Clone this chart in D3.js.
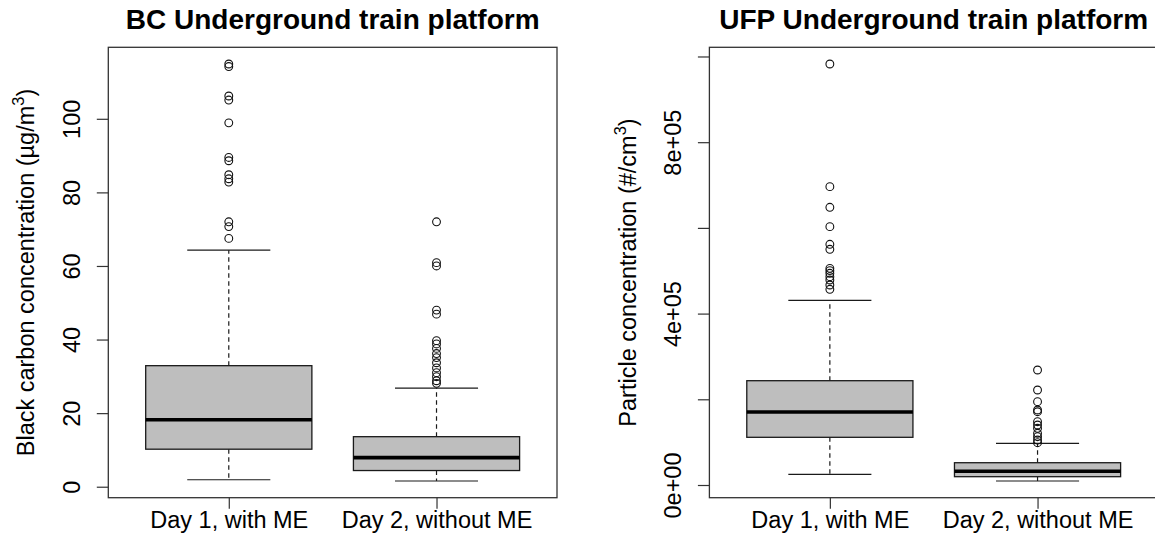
<!DOCTYPE html>
<html>
<head>
<meta charset="utf-8">
<script src="https://cdn.jsdelivr.net/npm/d3@7"></script>
<style>
  body { margin: 0; background: #fff; }
  svg { display: block; font-family: "Liberation Sans", Arial, Helvetica, sans-serif; }
</style>
</head>
<body>
<svg id="chart" width="1155" height="543"></svg>
<script>
// Groups on the x axis
const groups = ["Day 1, with ME", "Day 2, without ME"];

// Black carbon (µg/m³): [lower whisker, Q1, median, Q3, upper whisker] per group
const bcStats = [
  [1.9, 10.2, 18.2, 32.9, 64.3],
  [1.55, 4.4, 7.9, 13.6, 26.8]
];
const bcOutliers = [
  [114.9, 114.2, 106.2, 105.1, 98.9, 89.5, 88.6, 84.8, 83.7, 82.8, 72.0, 70.7, 67.5],
  [72.0, 60.9, 60.0, 48.0, 46.9, 39.7, 38.8, 37.6, 36.2, 35.1, 33.7, 32.3, 31.0, 29.9, 28.8, 28.1]
];
const bcTicks = [0, 20, 40, 60, 80, 100];
const bcTickLabels = ["0", "20", "40", "60", "80", "100"];

// Ultrafine particles (#/cm³): [lower whisker, Q1, median, Q3, upper whisker] per group
const ufpStats = [
  [25000, 111300, 170400, 243400, 431000],
  [9300, 19400, 32000, 52000, 97300]
];
const ufpOutliers = [
  [982500, 696200, 648000, 602900, 561700, 550000, 505600, 500200, 494000, 486100, 478400, 466700, 456700],
  [268400, 221700, 194400, 175000, 171000, 147700, 140000, 132300, 120600, 112700, 105000, 98700]
];
const ufpTicks = [0, 200000, 400000, 600000, 800000, 1000000];
const ufpTickLabels = ["0e+00", "", "4e+05", "", "8e+05", ""];

const svg = d3.select("#chart");
const FONT = 23.5;

function drawPanel(cfg) {
  const { left, right, top, bottom, stats, outliers, ticks, tickLabels, title, ylabel, ylabX } = cfg;
  const g = svg.append("g");

  // Data range padded by 4% on each side
  const all = stats.flat().concat(outliers.flat());
  const lo = d3.min(all), hi = d3.max(all);
  const pad = (hi - lo) * 0.04;
  const y = d3.scaleLinear().domain([lo - pad, hi + pad]).range([bottom, top]);
  const x = d3.scaleLinear().domain([0.42, 2.58]).range([left, right]);

  const boxHalf = 0.4, capHalf = 0.2;
  const ink = "#1a1a1a";

  stats.forEach((s, i) => {
    const c = i + 1;
    const [wLo, q1, med, q3, wHi] = s;
    const bg = g.append("g");
    // whiskers
    bg.append("line").attr("x1", x(c)).attr("x2", x(c)).attr("y1", y(q3)).attr("y2", y(wHi))
      .attr("stroke", ink).attr("stroke-width", 1.2).attr("stroke-dasharray", "4.5,3.5");
    bg.append("line").attr("x1", x(c)).attr("x2", x(c)).attr("y1", y(q1)).attr("y2", y(wLo))
      .attr("stroke", ink).attr("stroke-width", 1.2).attr("stroke-dasharray", "4.5,3.5");
    // staples
    [wLo, wHi].forEach(v => {
      bg.append("line").attr("x1", x(c - capHalf)).attr("x2", x(c + capHalf))
        .attr("y1", y(v)).attr("y2", y(v)).attr("stroke", ink).attr("stroke-width", 1.2);
    });
    // box
    bg.append("rect").attr("x", x(c - boxHalf)).attr("width", x(c + boxHalf) - x(c - boxHalf))
      .attr("y", y(q3)).attr("height", y(q1) - y(q3))
      .attr("fill", "#bebebe").attr("stroke", ink).attr("stroke-width", 1.3);
    // median
    bg.append("line").attr("x1", x(c - boxHalf)).attr("x2", x(c + boxHalf))
      .attr("y1", y(med)).attr("y2", y(med)).attr("stroke", "#000").attr("stroke-width", 3.6);
    // outliers
    bg.selectAll("circle").data(outliers[i]).join("circle")
      .attr("cx", x(c)).attr("cy", d => y(d)).attr("r", 3.9)
      .attr("fill", "none").attr("stroke", "#111").attr("stroke-width", 1.1);
  });

  // frame
  g.append("rect").attr("x", left).attr("y", top).attr("width", right - left).attr("height", bottom - top)
    .attr("fill", "none").attr("stroke", "#333").attr("stroke-width", 1.3);

  // y axis
  const ya = g.append("g").attr("transform", `translate(${left},0)`)
    .call(d3.axisLeft(y).tickValues(ticks).tickSize(11.5).tickSizeOuter(0)
      .tickFormat((d, i) => tickLabels[i]));
  ya.select(".domain").remove();
  ya.selectAll(".tick line").attr("stroke", "#333").attr("stroke-width", 1.2);
  ya.selectAll(".tick text")
    .attr("x", null).attr("dy", null)
    .attr("transform", "translate(-28,0) rotate(-90)")
    .attr("text-anchor", "middle")
    .attr("font-size", FONT).attr("font-family", null).attr("fill", "#000");

  // x axis
  const xa = g.append("g").attr("transform", `translate(0,${bottom})`)
    .call(d3.axisBottom(x).tickValues([1, 2]).tickSize(11).tickSizeOuter(0)
      .tickFormat((d, i) => groups[i]));
  xa.select(".domain").remove();
  xa.selectAll(".tick line").attr("stroke", "#333").attr("stroke-width", 1.2);
  xa.selectAll(".tick text").attr("y", 30).attr("dy", null)
    .attr("font-size", FONT).attr("font-family", null).attr("fill", "#000");

  // title
  g.append("text").attr("x", (left + right) / 2).attr("y", 29)
    .attr("text-anchor", "middle").attr("font-size", 28).attr("font-weight", "bold")
    .text(title);

  // y label with superscript
  const yl = g.append("text")
    .attr("transform", `translate(${ylabX},${(top + bottom) / 2}) rotate(-90)`)
    .attr("text-anchor", "middle").attr("font-size", FONT);
  ylabel.forEach(part => {
    const t = yl.append("tspan").text(part.t);
    if (part.sup) t.attr("font-size", FONT * 0.7).attr("dy", -10);
    if (part.after) t.attr("dy", 10);
  });
}

drawPanel({
  left: 108.3, right: 557, top: 47.3, bottom: 497.7,
  stats: bcStats, outliers: bcOutliers, ticks: bcTicks, tickLabels: bcTickLabels,
  title: "BC Underground train platform",
  ylabel: [{ t: "Black carbon concentration (µg/m" }, { t: "3", sup: true }, { t: ")", after: true }],
  ylabX: 34
});

drawPanel({
  left: 709.4, right: 1158, top: 47.3, bottom: 497.7,
  stats: ufpStats, outliers: ufpOutliers, ticks: ufpTicks, tickLabels: ufpTickLabels,
  title: "UFP Underground train platform",
  ylabel: [{ t: "Particle concentration (#/cm" }, { t: "3", sup: true }, { t: ")", after: true }],
  ylabX: 636
});
</script>
</body>
</html>
